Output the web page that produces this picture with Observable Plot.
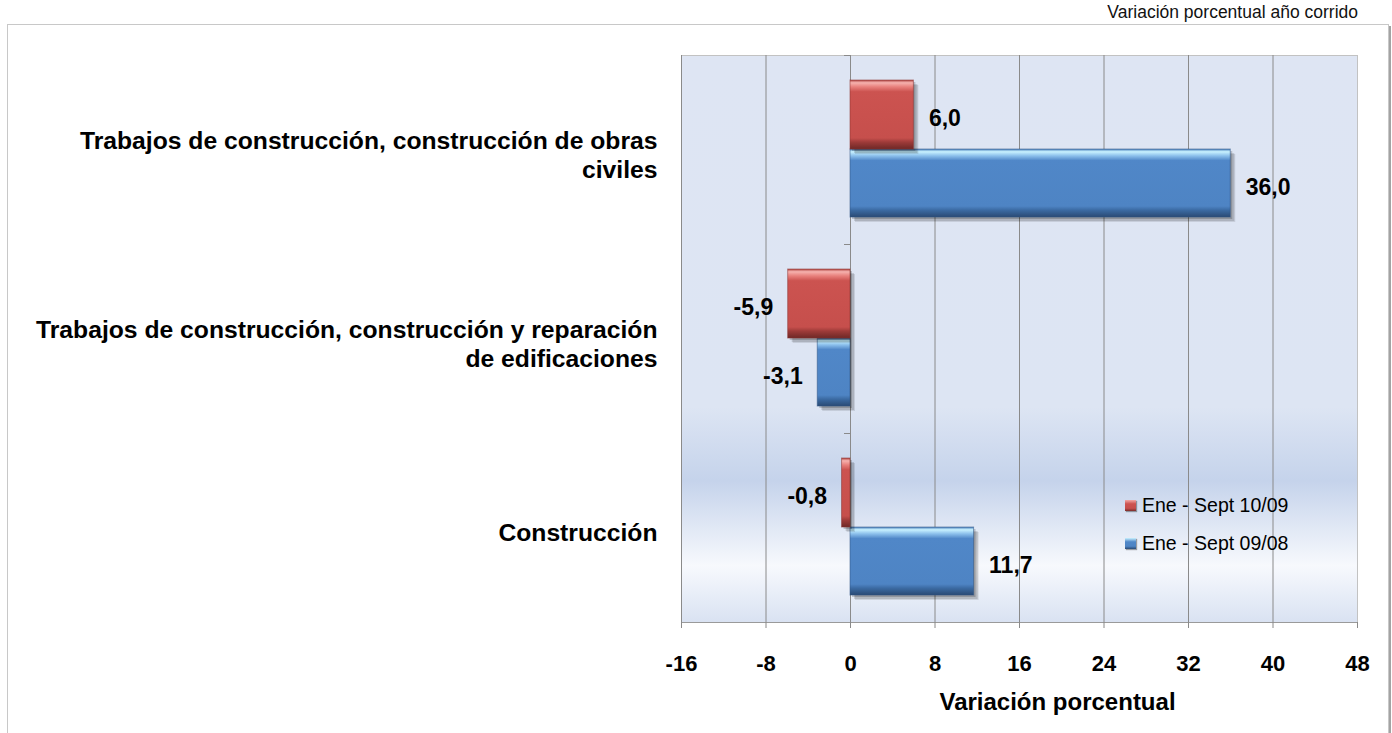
<!DOCTYPE html>
<html>
<head>
<meta charset="utf-8">
<script src="https://cdn.jsdelivr.net/npm/d3@7"></script>
<script src="https://cdn.jsdelivr.net/npm/@observablehq/plot@0.6"></script>
<style>
  body { margin: 0; background: #fff; font-family: Arial, "Liberation Sans", sans-serif; }
  #wrap { position: relative; width: 1392px; height: 733px; overflow: hidden; }
  #box { position: absolute; left: 7px; top: 24px; width: 1380px; height: 760px;
         border: 1px solid #c8c8c8; box-shadow: 2px 2px 0 #a3a3a3; }
  #sub { position: absolute; right: 34px; top: 2px; font-size: 17.5px; line-height: 20px; color: #111; white-space: nowrap; }
  #chart { position: absolute; left: 0; top: 0; }
  .leg { position: absolute; left: 1125px; height: 24px; display: flex; align-items: center;
         font-size: 19.5px; color: #000; white-space: nowrap; }
  .leg .sw { width: 11px; height: 11px; margin-right: 6px; box-shadow: 1px 1px 1px rgba(0,0,0,.35); }
</style>
</head>
<body>
<div id="wrap">
  <div id="box"></div>
  <div id="sub"></div>
  <div id="chart"></div>
</div>
<script>
// ---- data ----
const categories = [
  "Trabajos de construcción, construcción de obras civiles",
  "Trabajos de construcción, construcción y reparación de edificaciones",
  "Construcción"
];
const categoryLabels = [
  "Trabajos de construcción, construcción de obras\nciviles",
  "Trabajos de construcción, construcción y reparación\nde edificaciones",
  "Construcción"
];
const seriesNames = ["Ene - Sept 10/09", "Ene - Sept 09/08"];
const values1009 = [6.0, -5.9, -0.8];
const values0908 = [36.0, -3.1, 11.7];
const xTicks = [-16, -8, 0, 8, 16, 24, 32, 40, 48];
const subtitle = "Variación porcentual año corrido";
const xLabel = "Variación porcentual";

// ---- layout ----
const W = 1392, H = 733, mT = 55, mB = 111, mL = 681, mR = 35;
const bw = (H - mT - mB) / categories.length;
const tickLen = 6 * (xTicks[xTicks.length - 1] - xTicks[0]) / (W - mL - mR);
const fmt = v => v.toFixed(1).replace(".", ",");

const rows1009 = categories.map((c, i) => ({category: c, value: values1009[i]}));
const rows0908 = categories.map((c, i) => ({category: c, value: values0908[i]}));

const labelMarks = (rows, dy) => [
  Plot.text(rows.filter(d => d.value >= 0), {x: "value", y: "category", text: d => fmt(d.value),
    textAnchor: "start", dx: 15, dy, fontSize: 23, fontWeight: "bold", fill: "#000"}),
  Plot.text(rows.filter(d => d.value < 0), {x: "value", y: "category", text: d => fmt(d.value),
    textAnchor: "end", dx: -15, dy, fontSize: 23, fontWeight: "bold", fill: "#000"})
];

// soft shadow approximated by stacked offset translucent bars
const shadowMarks = (rows, insetTop, insetBottom) => [
  Plot.barX(rows, {x: "value", y: "category", insetTop, insetBottom, dx: 5, dy: 5, fill: "#000", fillOpacity: 0.10}),
  Plot.barX(rows, {x: "value", y: "category", insetTop, insetBottom, dx: 4, dy: 4, fill: "#000", fillOpacity: 0.13}),
  Plot.barX(rows, {x: "value", y: "category", insetTop, insetBottom, dx: 2, dy: 2, fill: "#000", fillOpacity: 0.18})
];

const plot = Plot.plot({
  width: W, height: H,
  marginTop: mT, marginBottom: mB, marginLeft: mL, marginRight: mR,
  style: {background: "transparent", fontFamily: "Arial, 'Liberation Sans', sans-serif", color: "#000"},
  x: {domain: [xTicks[0], xTicks[xTicks.length - 1]], axis: null},
  y: {domain: categories, padding: 0, axis: null},
  marks: [
    Plot.frame({fill: "url(#plotBg)", stroke: "#c2c2c2"}),
    Plot.gridX(xTicks.slice(0, -1), {stroke: "#8a8a8a", strokeOpacity: 1}),
    Plot.ruleY(categories, {y: d => d, x1: -tickLen, x2: 0, dy: -bw / 2, stroke: "#8a8a8a"}),
    Plot.ruleY(categories.slice(-1), {y: d => d, x1: -tickLen, x2: 0, dy: bw / 2, stroke: "#8a8a8a"}),
    Plot.frame({anchor: "bottom", stroke: "#9a9a9a"}),
    Plot.axisX(xTicks, {tickSize: 6, tickPadding: 27, stroke: "#8a8a8a", fill: "#000",
      fontSize: 22, fontWeight: "bold", tickFormat: d => String(d), label: null}),
    ...shadowMarks(rows0908, 94, 27),
    Plot.barX(rows0908, {x: "value", y: "category", insetTop: 94, insetBottom: 27,
      fill: "url(#gBlue)", stroke: "#2f5585", strokeOpacity: 0.55}),
    ...shadowMarks(rows1009, 25, 95),
    Plot.barX(rows1009, {x: "value", y: "category", insetTop: 25, insetBottom: 95,
      fill: "url(#gRed)", stroke: "#8a3331", strokeOpacity: 0.55}),
    ...labelMarks(rows1009, -31),
    ...labelMarks(rows0908, 37.5),
    Plot.text(categories, {y: d => d, text: (d, i) => categoryLabels[i], frameAnchor: "left",
      textAnchor: "end", dx: -24, dy: 4, fontSize: 24.7, fontWeight: "bold", lineHeight: 1.17,
      fill: "#000", ariaLabel: "cat-labels"}),
    Plot.text([xLabel], {frameAnchor: "bottom", lineAnchor: "middle", dx: 38, dy: 80,
      fontSize: 24, fontWeight: "bold", fill: "#000"})
  ]
});

// gradients
const svg = d3.select(plot);
const defs = svg.insert("defs", ":first-child");
function grad(id, stops) {
  const g = defs.append("linearGradient").attr("id", id)
    .attr("x1", 0).attr("y1", 0).attr("x2", 0).attr("y2", 1);
  stops.forEach(([o, c]) => g.append("stop").attr("offset", o).attr("stop-color", c));
}
grad("plotBg", [[0, "#dee5f3"], [0.62, "#dde5f3"], [0.75, "#c5d3eb"], [0.90, "#f7f9fd"], [1, "#d9e2f2"]]);
grad("gRed", [[0, "#b04543"], [0.04, "#f6b2ae"], [0.10, "#e8807c"], [0.17, "#cc5350"],
              [0.84, "#c64f4c"], [0.90, "#9e3b39"], [1, "#6e2826"]]);
grad("gBlue", [[0, "#4a7fbc"], [0.04, "#c9f2ff"], [0.10, "#8cc0ec"], [0.17, "#5087c8"],
               [0.84, "#4e84c4"], [0.90, "#3b6aa2"], [1, "#2a4a74"]]);

document.getElementById("chart").append(plot);
document.getElementById("sub").textContent = subtitle;

// center multi-line category labels (block right-aligned)
svg.selectAll('g[aria-label="cat-labels"] text').each(function() {
  const tspans = Array.from(this.querySelectorAll("tspan"));
  if (tspans.length > 1) {
    const w = Math.max(...tspans.map(t => t.getComputedTextLength()));
    this.setAttribute("text-anchor", "middle");
    tspans.forEach(t => t.setAttribute("x", -w / 2));
  }
});

// legend
const legColors = [
  "linear-gradient(#f3a9a6, #cc5350 35%, #c64f4c 75%, #7a2d2b)",
  "linear-gradient(#c9f2ff, #5087c8 35%, #4e84c4 75%, #2a4a74)"
];
const legCenters = [505, 543];
const wrap = document.getElementById("wrap");
seriesNames.forEach((name, i) => {
  const d = document.createElement("div");
  d.className = "leg";
  d.style.top = (legCenters[i] - 12) + "px";
  const sw = document.createElement("span");
  sw.className = "sw";
  sw.style.background = legColors[i];
  const t = document.createElement("span");
  t.textContent = name;
  d.append(sw, t);
  wrap.append(d);
});
</script>
</body>
</html>
